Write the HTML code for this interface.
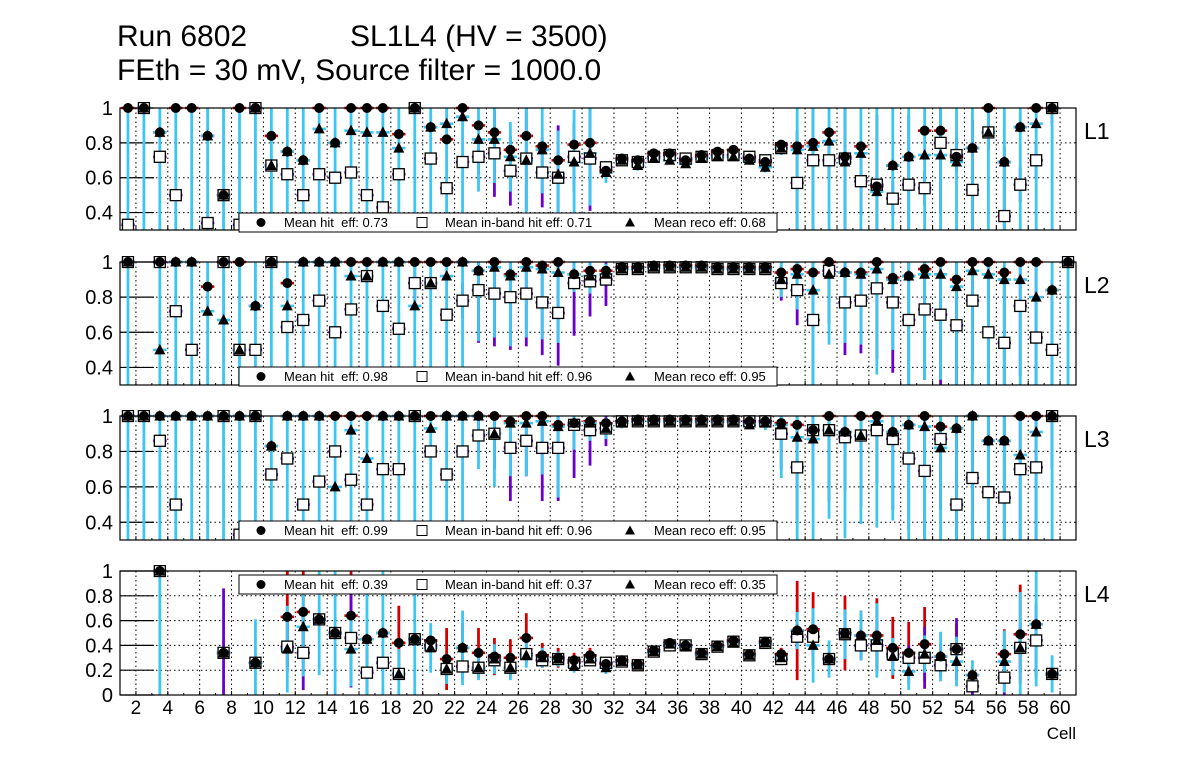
<!DOCTYPE html>
<html><head><meta charset="utf-8"><style>
body{margin:0;background:#fff;}
svg{display:block;font-family:"Liberation Sans",sans-serif;}
text{white-space:pre;}
</style></head><body>
<svg id="chart" width="1196" height="772" viewBox="0 0 1196 772" xmlns="http://www.w3.org/2000/svg">
<rect width="1196" height="772" fill="#fff"/>
<text x="117" y="46" font-size="30">Run 6802</text>
<text x="350" y="46" font-size="30">SL1L4 (HV = 3500)</text>
<text x="117" y="80" font-size="30">FEth = 30 mV, Source filter = 1000.0</text>
<text x="1076" y="739" font-size="17" text-anchor="end">Cell</text>
<g id="plots"></g>
</svg>
<script>
const cells = [1,2,3,4,5,6,7,8,9,10,11,12,13,14,15,16,17,18,19,20,21,22,23,24,25,26,27,28,29,30,31,32,33,34,35,36,37,38,39,40,41,42,43,44,45,46,47,48,49,50,51,52,53,54,55,56,57,58,59,60];
const xTicks = [2,4,6,8,10,12,14,16,18,20,22,24,26,28,30,32,34,36,38,40,42,44,46,48,50,52,54,56,58,60];
const layerNames = ["L1","L2","L3","L4"];
const meanHit = ["0.73","0.98","0.99","0.39"];
const meanIn = ["0.71","0.96","0.96","0.37"];
const meanReco = ["0.68","0.95","0.95","0.35"];

const hitL1 = [1,1,.86,1,1,.84,.5,1,1,.84,.75,.7,1,.8,1,1,1,.85,1,.89,.82,1,.9,.86,.76,.84,.78,.7,.79,.8,.64,.71,.7,.74,.74,.7,.73,.75,.76,.71,.69,.79,.78,.8,.86,.72,.78,.55,.67,.72,.87,.87,.72,.77,1,.69,.89,1,1,null];
const inL1 = [.33,1,.72,.5,.2,.34,.5,.33,1,.67,.62,.5,.62,.6,.63,.5,.43,.62,1,.71,.54,.69,.72,.74,.64,.71,.63,.6,.72,.71,.66,.7,.69,.72,.73,.71,.72,.73,.73,.72,.7,.77,.57,.7,.7,.71,.58,.56,.48,.56,.54,.8,.73,.53,.86,.38,.56,.7,1,null];
const recoL1 = [.2,1,.86,.2,.2,.84,.5,.2,1,.67,.75,.7,.88,.8,.87,.86,.86,.77,1,.89,.91,.95,.82,.82,.72,.7,.76,.62,.69,.74,.63,.7,.67,.71,.7,.68,.71,.72,.72,.7,.66,.77,.76,.78,.81,.69,.74,.52,.67,.72,.73,.73,.69,.77,.86,.69,.89,.91,1,null];
const recoErrL1 = [1,1,1,1,1,1,1,1,1,1,1,1,1,1,1,1,1,1,1,1,1,1,.3,.25,.2,.3,.25,.25,.3,.3,.06,.03,.03,.02,.02,.02,.02,.02,.02,.02,.03,.04,1,1,1,1,1,1,1,1,1,1,1,1,1,1,1,1,1,0];
const inErrL1 = [0,0,0,0,0,0,0,0,0,0,0,0,0,0,0,0,0,0,0,0,0,0,.1,.25,.2,.3,.2,.3,.2,.3,0,0,0,0,0,0,0,0,0,0,0,0,.3,.4,.1,.4,.2,.4,.1,.4,.1,.4,.1,.4,.1,.4,.1,.1,.1,0];

const hitL2 = [1,null,1,1,1,.86,1,1,.75,1,.88,1,1,1,1,1,1,1,1,1,1,1,.95,1,.93,1,.98,1,.93,.95,.95,.97,.97,.98,.98,.98,.98,.97,.97,.97,.97,.94,.96,.94,1,.94,.94,1,.91,.92,.96,1,.9,1,1,.94,1,1,.84,1];
const inL2 = [1,null,1,.72,.5,.2,1,.5,.5,1,.63,.67,.78,.6,.73,.92,.75,.62,.88,.88,.7,.78,.84,.82,.8,.82,.77,.71,.88,.89,.9,.96,.96,.97,.97,.97,.97,.96,.96,.96,.96,.88,.84,.67,.95,.77,.78,.85,.77,.67,.73,.7,.64,.78,.6,.54,.75,.57,.5,1];
const recoL2 = [1,null,.5,1,1,.72,.67,.5,.75,1,.75,1,1,1,.92,.92,1,1,.75,.88,.92,1,.95,.97,.92,.97,.96,.94,.93,.92,.93,.96,.96,.97,.97,.97,.97,.96,.96,.96,.96,.9,.93,.84,.93,.94,.93,.96,.9,.92,.93,.93,.86,.95,.93,.9,.9,.8,.84,1];
const recoErrL2 = [1,0,1,1,1,1,1,1,1,1,1,1,1,1,1,1,1,1,1,1,1,1,.4,.4,.4,.4,.4,.4,.1,.1,.06,.03,.03,.02,.02,.02,.02,.02,.02,.02,.03,.1,.2,.6,.4,.4,.4,.6,.4,1,.6,.6,1,1,1,1,1,1,1,1];
const inErrL2 = [0,0,0,0,0,0,0,0,0,0,0,0,0,0,0,0,0,0,.1,0,0,.1,.3,.3,.3,.3,.3,.3,.3,.2,.15,0,0,0,0,0,0,0,0,0,0,.1,.2,.5,.3,.3,.3,.4,.4,.5,.4,.4,.4,.4,.4,.4,.4,.4,.4,0];

const hitL3 = [1,1,1,1,1,1,1,1,1,.83,1,1,1,1,1,1,1,1,1,1,1,1,1,1,.97,1,1,.95,.96,.97,.96,.97,.98,.98,.98,.98,.98,.98,.98,.97,.97,.96,.95,.92,1,.91,1,1,.91,.95,1,.94,.93,1,.86,.86,1,1,1,null];
const inL3 = [1,1,.86,.5,.2,.2,1,.33,1,.67,.76,.5,.63,.8,.64,.5,.7,.7,1,.8,.67,.8,.89,.9,.82,.86,.82,.82,.95,.92,.93,.97,.97,.97,.97,.97,.97,.97,.97,.97,.97,.9,.71,.92,.92,.88,.89,.92,.87,.76,.69,.87,.5,.65,.57,.54,.7,.71,1,null];
const recoL3 = [1,1,1,1,1,1,1,1,1,.83,1,1,1,.6,.92,.76,1,1,1,.93,1,1,1,.9,.96,.96,.97,.94,.96,.96,.93,.96,.97,.97,.97,.97,.97,.97,.97,.95,.96,.95,.88,.87,.92,.91,.89,.97,.91,.95,.94,.82,.93,1,.86,.86,.78,.91,1,null];
const recoErrL3 = [1,1,1,1,1,1,1,1,1,1,1,1,1,1,1,1,1,1,1,1,1,1,.3,.3,.3,.3,.3,.4,.15,.1,.06,.03,.03,.02,.02,.02,.02,.02,.02,.02,.04,.3,.6,1,.5,.6,.5,.6,.5,1,.7,.6,1,1,1,1,1,1,1,0];
const inErrL3 = [0,0,0,0,0,0,0,0,0,0,0,0,0,0,0,0,0,0,0,0,0,0,.1,.2,.3,.2,.3,.3,.3,.2,.1,0,0,0,0,0,0,0,0,0,0,.2,.3,.3,.4,.3,.4,.3,.4,.4,.5,.4,.5,.4,.5,.5,.4,.5,.3,0];

const hitL4 = [null,null,1,null,null,null,.34,null,.26,null,.63,.67,.61,.5,.64,.45,.5,.42,.45,.44,.29,.38,.34,.31,.3,.46,.32,.3,.28,.32,.25,.28,.25,.36,.42,.4,.34,.4,.44,.33,.43,.33,.52,.53,.29,.5,.48,.48,.38,.34,.41,.31,.37,.16,null,.33,.49,.57,.17,null];
const inL4 = [null,null,1,null,null,null,.34,null,.26,null,.39,.34,.61,.5,.46,.18,.26,.17,.45,.4,.21,.23,.22,.28,.22,.33,.28,.29,.26,.28,.26,.27,.24,.35,.4,.4,.33,.39,.43,.32,.42,.29,.47,.47,.29,.49,.4,.4,.33,.3,.3,.24,.37,.07,null,.14,.38,.44,.17,null];
const recoL4 = [null,null,1,null,null,null,.34,null,.26,null,.37,.55,.61,.5,.37,.45,.5,.17,.45,.38,.21,.38,.22,.29,.22,.32,.3,.29,.23,.29,.22,.27,.24,.35,.41,.39,.33,.39,.42,.32,.42,.3,.52,.4,.29,.49,.48,.44,.31,.19,.33,.31,.27,.16,null,.27,.38,.57,.17,null];
const recoErrL4 = [0,0,1,0,0,0,0,0,.35,0,.35,.4,.45,.5,.3,.5,.5,.2,.45,.2,.12,.3,.1,.12,.1,.1,.08,.06,.05,.05,.05,.03,.03,.03,.03,.03,.03,.03,.03,.03,.03,.06,.15,.3,.15,.2,.2,.3,.15,.15,.15,.2,.2,.12,0,.25,.45,.5,.15,0];
const inErrL4 = [0,0,0,0,0,0,.52,0,0,0,.2,.3,0,0,.4,.2,0,0,0,0,.1,.1,0,0,0,0,0,0,.05,0,0,0,0,0,0,0,0,0,0,0,0,0,.1,.15,0,.2,.1,.2,0,.1,.25,.1,.25,.1,0,.15,.2,.3,0,0];
const hitErrL4 = [0,0,0,0,0,0,0,0,0,0,.4,.4,0,0,.4,0,0,.3,0,0,.25,.2,.2,.15,.15,.2,.1,.08,.06,.06,.05,.03,.03,.03,.03,.03,.03,.03,.03,.03,.03,.05,.4,.3,0,.3,.2,.3,.25,.25,.3,.1,.2,0,0,.2,.4,0,0,0];

const yTicksTop = [0.4,0.6,0.8,1];
const yTicksBottom = [0,0.2,0.4,0.6,0.8,1];

const NS = "http://www.w3.org/2000/svg";
const root = document.getElementById("plots");
const X0 = 120, X1 = 1076, XMIN = 1, XMAX = 61;
function xs(c){ return X0 + (c - XMIN) * (X1 - X0) / (XMAX - XMIN); }
function mk(tag, attrs, parent){
  const e = document.createElementNS(NS, tag);
  for (const k in attrs) e.setAttribute(k, attrs[k]);
  (parent || root).appendChild(e);
  return e;
}
const panels = [
  {top:108, bottom:230, ymin:0.3, hit:hitL1, inb:inL1, reco:recoL1, recoErr:recoErrL1, inErr:inErrL1, hitErr:null, ticks:yTicksTop, legY:213},
  {top:262, bottom:385, ymin:0.3, hit:hitL2, inb:inL2, reco:recoL2, recoErr:recoErrL2, inErr:inErrL2, hitErr:null, ticks:yTicksTop, legY:367},
  {top:416, bottom:540, ymin:0.3, hit:hitL3, inb:inL3, reco:recoL3, recoErr:recoErrL3, inErr:inErrL3, hitErr:null, ticks:yTicksTop, legY:521},
  {top:571, bottom:695, ymin:0, hit:hitL4, inb:inL4, reco:recoL4, recoErr:recoErrL4, inErr:inErrL4, hitErr:hitErrL4, ticks:yTicksBottom, legY:575}
];
const RED="#d40000", PUR="#6a00cc", CYA="#3cc6f2";

panels.forEach((p, pi) => {
  const g = mk("g", {});
  
  
  const ys = v => p.bottom - (v - p.ymin) * (p.bottom - p.top) / (1 - p.ymin);
  const clipId = "clip" + pi;
  const cp = mk("clipPath", {id: clipId}, g);
  mk("rect", {x:X0, y:p.top-6, width:X1-X0, height:p.bottom-p.top+6}, cp);
  xTicks.forEach(t => {
    const l = mk("line", {x1:xs(t), x2:xs(t), y1:p.top, y2:p.bottom, stroke:"#000", "stroke-width":1, "stroke-dasharray":"1.5,3"}, g);
    
    
    mk("line", {x1:xs(t), x2:xs(t), y1:p.bottom, y2:p.bottom-4, stroke:"#000"}, g);
  });
  cells.forEach(c => { mk("line", {x1:xs(c), x2:xs(c), y1:p.bottom, y2:p.bottom-2, stroke:"#000"}, g); });
  p.ticks.forEach(t => {
    if (t < 1 && t > p.ymin) {
      const l = mk("line", {x1:X0, x2:X1, y1:ys(t), y2:ys(t), stroke:"#000", "stroke-width":1, "stroke-dasharray":"1.5,3"}, g);
      
      
    }
    mk("line", {x1:X0, x2:X0+34, y1:ys(t), y2:ys(t), stroke:"#000", "stroke-width":1.2}, g);
    const tx = mk("text", {x:113, y:ys(t)+7, "font-size":20, "text-anchor":"end"}, g);
    tx.textContent = (t === 1 || t === 0) ? String(t) : t.toFixed(1);
    
    
  });
  const dg = mk("g", {"clip-path":"url(#" + clipId + ")"}, g);
  const hw = 0.42 * (X1 - X0) / (XMAX - XMIN);
  const vbar = (c, v, e, col) => {
    if (v === null) return;
    const x = xs(c + 0.5);
    mk("line", {x1:x-hw, x2:x+hw, y1:ys(v), y2:ys(v), stroke:col, "stroke-width":2.6}, dg);
    if (e > 0) mk("line", {x1:x, x2:x, y1:ys(Math.max(v-e, p.ymin-0.2)), y2:ys(Math.min(v+e, 1)), stroke:col, "stroke-width":2.8}, dg);
  };
  cells.forEach((c, i) => {
    vbar(c, p.hit[i], p.hitErr ? p.hitErr[i] : 0, RED);
    vbar(c, p.inb[i], p.inErr[i], PUR);
    vbar(c, p.reco[i], p.recoErr[i], CYA);
  });
  cells.forEach((c, i) => {
    const x = xs(c + 0.5);
    const vi = p.inb[i], vh = p.hit[i], vr = p.reco[i];
    if (vi !== null && vi >= p.ymin) {
      const s = mk("rect", {x:x-5.5, y:ys(vi)-5.5, width:11, height:11, fill:"#fff", stroke:"#000", "stroke-width":1.3}, dg);
      
      
    }
    if (vh !== null && vh >= p.ymin) {
      const ci = mk("circle", {cx:x, cy:ys(vh), r:5, fill:"#000"}, dg);
      
      
    }
    if (vr !== null && vr >= p.ymin) {
      const y = ys(vr);
      const tr = mk("polygon", {points:(x-5.5)+","+(y+4.5)+" "+(x+5.5)+","+(y+4.5)+" "+x+","+(y-6), fill:"#000"}, dg);
      
      
    }
  });
  mk("rect", {x:X0, y:p.top, width:X1-X0, height:p.bottom-p.top, fill:"none", stroke:"#000", "stroke-width":1.2}, g);
  const lg = mk("g", {}, g);
  
  
  mk("rect", {x:239, y:p.legY, width:538, height:19, fill:"#fff", stroke:"#000", "stroke-width":1}, lg);
  const cy = p.legY + 9.5;
  mk("circle", {cx:261, cy:cy, r:4.5, fill:"#000"}, lg);
  mk("rect", {x:417, y:cy-5, width:10, height:10, fill:"#fff", stroke:"#000"}, lg);
  mk("polygon", {points:"625,"+(cy+4)+" 635,"+(cy+4)+" 630,"+(cy-5), fill:"#000"}, lg);
  const t1 = mk("text", {x:284, y:cy+4.5, "font-size":13}, lg);
  t1.textContent = "Mean hit  eff: " + meanHit[pi];
  
  
  const t2 = mk("text", {x:445, y:cy+4.5, "font-size":13}, lg);
  t2.textContent = "Mean in-band hit eff: " + meanIn[pi];
  
  
  const t3 = mk("text", {x:654, y:cy+4.5, "font-size":13}, lg);
  t3.textContent = "Mean reco eff: " + meanReco[pi];
  
  
  const ln = mk("text", {x:1084, y:p.top+31, "font-size":23}, g);
  ln.textContent = layerNames[pi];
  
  
  if (pi === 3) {
    xTicks.forEach(t => {
      const tx = mk("text", {x:xs(t), y:714, "font-size":19, "text-anchor":"middle"}, g);
      tx.textContent = String(t);
      
      
    });
  }
});
</script>
</body></html>
